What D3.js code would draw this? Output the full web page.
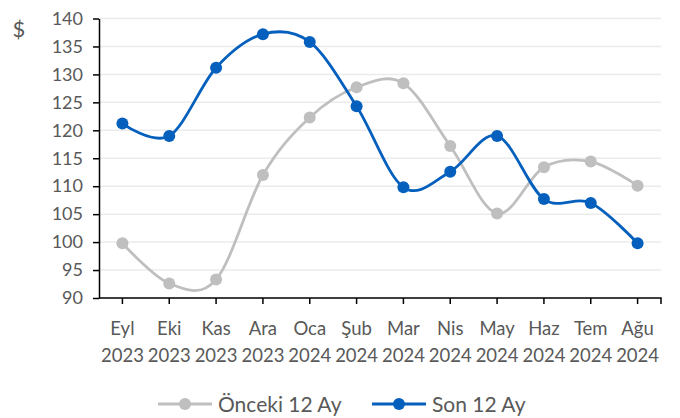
<!DOCTYPE html>
<html>
<head>
<meta charset="utf-8">
<script src="https://cdn.jsdelivr.net/npm/d3@7"></script>
<style>
  body { margin: 0; background: #fff; }
  text { font-family: Lato, "Noto Sans", sans-serif; fill: #595959; }
  .grid line { stroke: #ebebeb; stroke-width: 1.5; }
  .axis path, .axis line { stroke: #000; stroke-width: 1.5; }
</style>
</head>
<body>
<div id="chart"></div>
<script>
/*global d3*/
(function () {
    "use strict";
    var months = ["Eyl", "Eki", "Kas", "Ara", "Oca", "Şub", "Mar", "Nis", "May", "Haz", "Tem", "Ağu"],
        years = ["2023", "2023", "2023", "2023", "2024", "2024", "2024", "2024", "2024", "2024", "2024", "2024"],
        onceki = [99.8, 92.6, 93.3, 112.0, 122.3, 127.7, 128.4, 117.2, 105.1, 113.4, 114.4, 110.1],
        son = [121.2, 119.0, 131.2, 137.2, 135.8, 124.3, 109.8, 112.6, 119.0, 107.7, 107.0, 99.8],
        yTicks = [90, 95, 100, 105, 110, 115, 120, 125, 130, 135, 140],
        seriesNames = ["Önceki 12 Ay", "Son 12 Ay"],
        colors = ["#bfbfbf", "#0560bd"],

        widthGlobal = 680,
        heightGlobal = 418,
        margin = {top: 18.5, right: 19, bottom: 120, left: 99},
        width = widthGlobal - margin.left - margin.right,
        height = heightGlobal - margin.top - margin.bottom,

        x = d3.scaleBand()
            .domain(d3.range(months.length))
            .range([0, width]),

        y = d3.scaleLinear()
            .domain([90, 140])
            .range([height, 0]),

        line = d3.line()
            .x(function (d, i) { return x(i) + x.bandwidth() / 2; })
            .y(function (d) { return y(d); })
            .curve(d3.curveCardinal.tension(0)),

        svg = d3.select("#chart").append("svg")
            .attr("width", widthGlobal)
            .attr("height", heightGlobal),

        g = svg.append("g")
            .attr("transform", "translate(" + margin.left + "," + margin.top + ")");

    // gridlines
    g.append("g").attr("class", "grid").selectAll("line")
        .data(yTicks.slice(1))
        .enter().append("line")
        .attr("x1", 0)
        .attr("x2", width)
        .attr("y1", function (d) { return y(d); })
        .attr("y2", function (d) { return y(d); });

    // y axis
    var yAxis = g.append("g")
        .attr("class", "axis")
        .call(d3.axisLeft(y).tickValues(yTicks).tickSize(6).tickSizeOuter(0).tickPadding(10));
    yAxis.selectAll("text").style("font-size", "18px").style("fill", "#595959");

    // x axis
    var xAxis = g.append("g")
        .attr("class", "axis")
        .attr("transform", "translate(0," + height + ")")
        .call(d3.axisBottom(x).tickSize(6).tickSizeOuter(6).tickFormat(""));
    xAxis.select(".domain").attr("d", "M0,0H" + width + "V6");

    xAxis.selectAll(".tick text").remove();
    var lbl = xAxis.selectAll(".xlabel")
        .data(months)
        .enter().append("text")
        .attr("class", "xlabel")
        .attr("text-anchor", "middle")
        .attr("transform", function (d, i) { return "translate(" + (x(i) + x.bandwidth() / 2) + ",0)"; })
        .style("font-size", "18.5px");
    lbl.append("tspan").attr("x", 0).attr("y", 37).text(function (d) { return d; });
    lbl.append("tspan").attr("x", 0).attr("y", 64).text(function (d, i) { return years[i]; });

    // $ label
    svg.append("text")
        .attr("x", 19)
        .attr("y", 37)
        .attr("text-anchor", "middle")
        .style("font-size", "22px")
        .text("$");

    // series
    [onceki, son].forEach(function (data, k) {
        var s = g.append("g");
        s.append("path")
            .datum(data)
            .attr("fill", "none")
            .attr("stroke", colors[k])
            .attr("stroke-width", 2.8)
            .attr("d", line);
        s.selectAll("circle")
            .data(data)
            .enter().append("circle")
            .attr("cx", function (d, i) { return x(i) + x.bandwidth() / 2; })
            .attr("cy", function (d) { return y(d); })
            .attr("r", 6)
            .attr("fill", colors[k]);
    });

    // legend
    var legendX = [158, 372],
        legend = svg.append("g").selectAll("g")
            .data(seriesNames)
            .enter().append("g")
            .attr("transform", function (d, i) { return "translate(" + legendX[i] + ",404)"; });
    legend.append("line")
        .attr("x1", 0).attr("x2", 54)
        .attr("stroke", function (d, i) { return colors[i]; })
        .attr("stroke-width", 2.8);
    legend.append("circle")
        .attr("cx", 27)
        .attr("r", 6)
        .attr("fill", function (d, i) { return colors[i]; });
    legend.append("text")
        .attr("x", 60)
        .attr("y", 8)
        .style("font-size", "21px")
        .text(function (d) { return d; });
}());
</script>
</body>
</html>
